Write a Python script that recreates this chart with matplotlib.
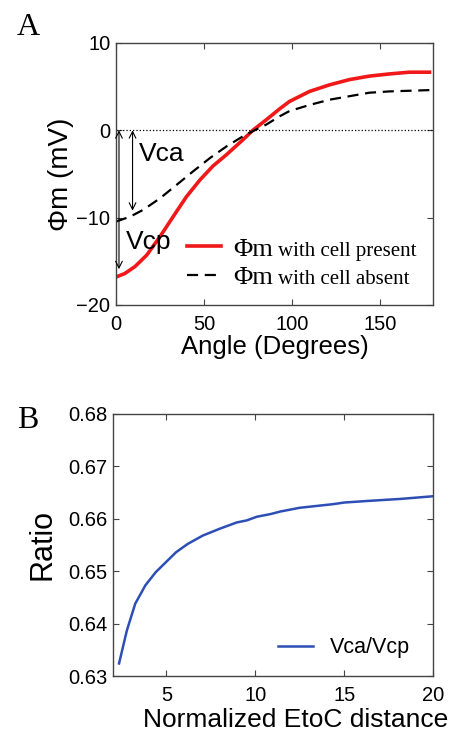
import matplotlib
matplotlib.use("Agg")
import matplotlib.pyplot as plt

# -------------------------------------------------------------------
# Data
# -------------------------------------------------------------------
angle_present = [0, 5, 10.8, 17.4, 24.9, 32.4, 40, 47.6, 55, 62.7, 72, 77.7, 85.3, 92.9,
                 98.5, 109.9, 121.2, 132.5, 143.8, 155.2, 166.5, 178]
phi_present = [-16.8, -16.4, -15.6, -14.3, -12.2, -9.9, -7.6, -5.7, -4.1, -2.8, -1.1, 0.0,
               1.2, 2.45, 3.3, 4.45, 5.2, 5.8, 6.2, 6.45, 6.65, 6.65]

angle_absent = [0, 7.9, 15.5, 24.9, 34.4, 43.8, 53.2, 62.7, 72, 77.7, 85.3, 92.9, 98.5,
                109.9, 121.2, 132.5, 143.8, 155.2, 178]
phi_absent = [-10.45, -9.9, -9.1, -7.8, -6.25, -4.7, -3.2, -1.85, -0.7, -0.1, 0.65, 1.6,
              2.2, 2.9, 3.5, 3.9, 4.3, 4.45, 4.6]

etoc = [2.34, 2.78, 3.25, 3.82, 4.4, 4.97, 5.54, 6.2, 7.05, 8.0, 8.96, 9.53, 10.1, 10.86,
        11.43, 12.5, 14.4, 15.0, 16.3, 18.2, 20.0]
ratio = [0.6324, 0.6387, 0.6438, 0.6473, 0.6498, 0.6517, 0.6536, 0.6552, 0.6568, 0.6581,
         0.6593, 0.6597, 0.6604, 0.6609, 0.6614, 0.6621, 0.6628, 0.6631, 0.6634, 0.6638,
         0.6643]

vcp_end = -15.9
vca_end = -9.2

plt.rcParams['font.family'] = ['Liberation Sans', 'DejaVu Sans']
serif = ['Liberation Serif', 'DejaVu Serif']

W, H = 459, 734
fig = plt.figure(figsize=(W / 100, H / 100), dpi=100)

def style(ax):
    ax.tick_params(direction='in', top=True, right=True, labelsize=14.5,
                   length=4, width=0.8, color='#444444')
    ax.tick_params(axis='x', pad=7)
    ax.tick_params(axis='y', pad=4)
    for s in ax.spines.values():
        s.set_color('#444444')
        s.set_linewidth(1.0)

# -------------------------------------------------------------------
# Panel A
# -------------------------------------------------------------------
axA = fig.add_axes([0.2527, 0.5845, 0.6907, 0.357])
l1, = axA.plot(angle_present, phi_present, color='#f01818', lw=2.6)
l2, = axA.plot(angle_absent, phi_absent, color='black', lw=1.6, dashes=(5, 3))
axA.axhline(0, color='black', lw=0.9, ls=':')
axA.set_xlim(0, 180)
axA.set_ylim(-20, 10)
axA.set_xticks([0, 50, 100, 150])
axA.set_yticks([-20, -10, 0, 10])
axA.set_xlabel('Angle (Degrees)', fontsize=18.5, labelpad=1)
axA.set_ylabel('\u03a6m (mV)', fontsize=20, labelpad=2)
style(axA)

arrow = dict(arrowstyle='<->', color='black', lw=0.8, shrinkA=0, shrinkB=0,
             mutation_scale=12)
axA.annotate('', xy=(1.7, 0), xytext=(1.7, vcp_end), arrowprops=arrow)
axA.annotate('', xy=(9.4, 0), xytext=(9.4, vca_end), arrowprops=arrow)
axA.text(13, -2.7, 'Vca', fontsize=19, va='center', ha='left')
axA.text(5.5, -12.8, 'Vcp', fontsize=19, va='center', ha='left')

leg = axA.legend([l1, l2], ['\u03a6m', '\u03a6m'], loc='center left',
                 bbox_to_anchor=(0.19, 0.16), frameon=False,
                 prop={'family': serif, 'size': 19}, handlelength=1.3,
                 handletextpad=0.45, labelspacing=0.18, borderaxespad=0.0)

# -------------------------------------------------------------------
# Panel B
# -------------------------------------------------------------------
axB = fig.add_axes([0.2462, 0.079, 0.6972, 0.357])
axB.plot(etoc, ratio, color='#2d4fb5', lw=1.8, label='Vca/Vcp')
axB.set_xlim(2, 20)
axB.set_ylim(0.63, 0.68)
axB.set_xticks([5, 10, 15, 20])
axB.set_yticks([0.63, 0.64, 0.65, 0.66, 0.67, 0.68])
axB.set_xlabel('Normalized EtoC distance', fontsize=19, labelpad=2, x=0.572)
axB.set_ylabel('Ratio', fontsize=22, labelpad=8)
style(axB)
axB.legend(loc='center right', bbox_to_anchor=(0.955, 0.108), frameon=False,
           fontsize=15.5, handlelength=1.6, borderaxespad=0.0)

fig.text(0.037, 0.963, 'A', family=serif, fontsize=23, va='center')
fig.text(0.037, 0.427, 'B', family=serif, fontsize=23, va='center')

# small serif words after each legend "Φm", on the same baseline
fig.canvas.draw()
renderer = fig.canvas.get_renderer()
for t, lab in zip(leg.get_texts(), ['with cell present', 'with cell absent']):
    bb = t.get_window_extent(renderer)
    base_y = t.get_transform().transform((0, 0))[1]
    fig.text((bb.x1 + 5) / W, base_y / H, lab, family=serif, fontsize=15,
             va='baseline', ha='left')

fig.savefig('out.png', dpi=100)
